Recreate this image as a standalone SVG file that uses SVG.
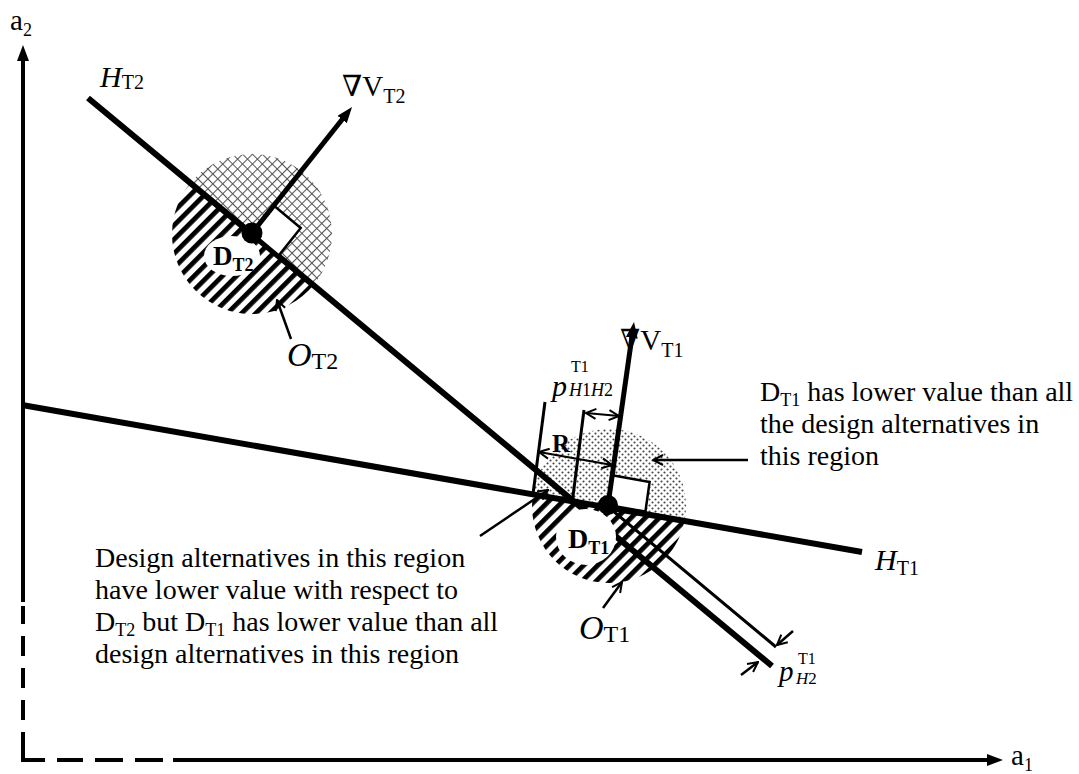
<svg xmlns="http://www.w3.org/2000/svg" width="1079" height="774" viewBox="0 0 1079 774">
<style>
text{font-family:"Liberation Serif","DejaVu Serif","Times New Roman",serif;fill:#000}
.it{font-style:italic}
.b{font-weight:bold}
.hline{stroke:#000;stroke-width:6;fill:none}
.axis{stroke:#000;stroke-width:4;fill:none}
.grad{stroke:#000;stroke-width:5;fill:none;marker-end:url(#solid)}
.thin{stroke:#000;stroke-width:3;fill:none}
.ptr{stroke:#000;stroke-width:2.5;fill:none;marker-end:url(#open)}
.dbl{stroke:#000;stroke-width:2.2;fill:none;marker-start:url(#open);marker-end:url(#open)}
.box{stroke:#000;stroke-width:2.5;fill:#fff}
.txt{font-size:28px}
</style>
<defs>
<pattern id="stripes" width="10" height="10" patternUnits="userSpaceOnUse" patternTransform="rotate(-45)">
<rect x="0" y="0" width="10" height="4.8" fill="#000"/>
</pattern>
<pattern id="cross" width="7" height="7" patternUnits="userSpaceOnUse" patternTransform="rotate(45)">
<path d="M0 0.5H7M0.5 0V7" stroke="#555" stroke-width="1.1"/>
</pattern>
<pattern id="dots" width="6" height="6" patternUnits="userSpaceOnUse">
<circle cx="1.5" cy="1.5" r="1.05" fill="#444"/>
<circle cx="4.5" cy="4.5" r="1.05" fill="#444"/>
</pattern>
<clipPath id="aboveHT2"><polygon points="-100,-58 1179,1005 1179,-100 -100,-100"/></clipPath>
<clipPath id="belowHT2"><polygon points="-100,-58 1179,1005 -100,1005"/></clipPath>
<clipPath id="aboveHT1"><polygon points="-100,383.6 1179,607.6 1179,-100 -100,-100"/></clipPath>
<clipPath id="belowHT1"><polygon points="-100,383.6 1179,607.6 1179,1100 -100,1100"/></clipPath>
<marker id="solid" viewBox="0 0 16 12" refX="1" refY="6" markerWidth="16" markerHeight="12" markerUnits="userSpaceOnUse" orient="auto"><path d="M0,0 L16,6 L0,12 Z" fill="#000"/></marker>
<marker id="open" viewBox="0 0 12 12" refX="11" refY="6" markerWidth="12" markerHeight="12" markerUnits="userSpaceOnUse" orient="auto-start-reverse"><path d="M1,1 L11,6 L1,11" fill="none" stroke="#000" stroke-width="2"/></marker>
</defs>

<g id="axes">
<line class="axis" x1="23" y1="602" x2="23" y2="60" marker-end="url(#solid)"/>
<line class="axis" x1="173" y1="760" x2="988" y2="760" marker-end="url(#solid)"/>
<path class="axis" d="M23 732V760H45M57 760H83M95 760H123M135 760H163M23 720V700M23 688V668M23 656V636M23 624V606"/>
<text x="10" y="30" font-size="29">a<tspan font-size="18" dy="6">2</tspan></text>
<text x="1011" y="765" font-size="29">a<tspan font-size="18" dy="6">1</tspan></text>
</g>

<g id="region-T2">
<circle cx="252" cy="234" r="80" fill="url(#cross)" clip-path="url(#aboveHT2)"/>
<circle cx="252" cy="234" r="80" fill="url(#stripes)" clip-path="url(#belowHT2)"/>
</g>
<g id="region-T1">
<circle cx="609" cy="506" r="77" fill="url(#dots)" clip-path="url(#aboveHT1)"/>
<circle cx="609" cy="506" r="77" fill="url(#stripes)" clip-path="url(#belowHT1)"/>
</g>

<g id="H_T2">
<line class="hline" x1="88" y1="98" x2="772" y2="666"/>
<text x="100" y="87" class="it" font-size="30">H<tspan font-size="20" dy="2" font-style="normal">T2</tspan></text>
</g>

<g id="label-bg">
<ellipse cx="232" cy="256" rx="28" ry="20" fill="#fff"/>
<ellipse cx="586" cy="537" rx="30" ry="28" fill="#fff"/>
</g>

<g id="H_T1">
<line class="hline" x1="22" y1="405" x2="862" y2="552"/>
<text x="875" y="570" class="it" font-size="30">H<tspan font-size="20" dy="5" font-style="normal">T1</tspan></text>
</g>

<g id="D_T2">
<polygon class="box" points="252,233 273.8,205.6 300.7,228 278.9,255.4"/>
<line class="grad" x1="252" y1="233" x2="342.7" y2="118.7"/>
<circle cx="252" cy="233" r="10.5" fill="#000"/>
<text x="213" y="265" class="b" font-size="27">D<tspan font-size="18" dy="6">T2</tspan></text>
<text x="342" y="96" font-size="29">∇V<tspan font-size="20" dy="7">T2</tspan></text>
</g>

<g id="D_T1">
<polygon class="box" points="608,505 612.2,475.3 649.6,481.9 645.4,511.6"/>
<line class="thin" x1="607" y1="506" x2="776" y2="647"/>
<line class="grad" x1="608" y1="505" x2="631.9" y2="336.9"/>
<circle cx="608" cy="505" r="10" fill="#000"/>
<text x="568" y="548" class="b" font-size="28">D<tspan font-size="18" dy="6">T1</tspan></text>
<text x="620" y="350" font-size="29">∇V<tspan font-size="20" dy="7">T1</tspan></text>
</g>

<g id="O_T2">
<line class="ptr" x1="291" y1="339" x2="277" y2="300"/>
<text x="287" y="366" class="it" font-size="34">O<tspan font-size="24" dy="3" font-style="normal">T2</tspan></text>
</g>

<g id="O_T1">
<line class="ptr" x1="603" y1="608" x2="622" y2="582"/>
<text x="579" y="639" class="it" font-size="34">O<tspan font-size="24" dy="3" font-style="normal">T1</tspan></text>
</g>

<g id="dim-R">
<line class="thin" x1="545" y1="402" x2="533" y2="494"/>
<line class="thin" x1="584" y1="410" x2="572" y2="504"/>
<line class="dbl" x1="539" y1="452" x2="612" y2="465"/>
<text x="552" y="452" class="b" font-size="25">R</text>
</g>

<g id="dim-pH1H2">
<line class="dbl" x1="586" y1="413" x2="619" y2="416"/>
<text x="552" y="396" class="it" font-size="30">p</text>
<text x="571" y="372" font-size="16">T1</text>
<text x="569" y="396" font-size="18" class="it">H<tspan font-style="normal">1</tspan>H<tspan font-style="normal">2</tspan></text>
</g>

<g id="dim-pH2">
<line class="ptr" x1="793" y1="631" x2="777" y2="645"/>
<line class="ptr" x1="741" y1="675" x2="758" y2="662"/>
<text x="779" y="681" class="it" font-size="29">p</text>
<text x="798" y="664" font-size="16">T1</text>
<text x="796" y="684" font-size="17" class="it">H<tspan font-style="normal">2</tspan></text>
</g>

<g id="note-right">
<line class="ptr" x1="748" y1="460" x2="653" y2="460"/>
<text class="txt" x="760" y="401">D<tspan font-size="18" dy="5">T1</tspan><tspan dy="-5"> has lower value than all</tspan></text>
<text class="txt" x="760" y="433">the design alternatives in</text>
<text class="txt" x="760" y="465">this region</text>
</g>

<g id="note-left">
<line class="ptr" x1="480" y1="536" x2="548" y2="490"/>
<text class="txt" x="95" y="567">Design alternatives in this region</text>
<text class="txt" x="95" y="599">have lower value with respect to</text>
<text class="txt" x="95" y="631">D<tspan font-size="18" dy="5">T2</tspan><tspan dy="-5"> but D</tspan><tspan font-size="18" dy="5">T1</tspan><tspan dy="-5"> has lower value than all</tspan></text>
<text class="txt" x="95" y="663">design alternatives in this region</text>
</g>
</svg>
